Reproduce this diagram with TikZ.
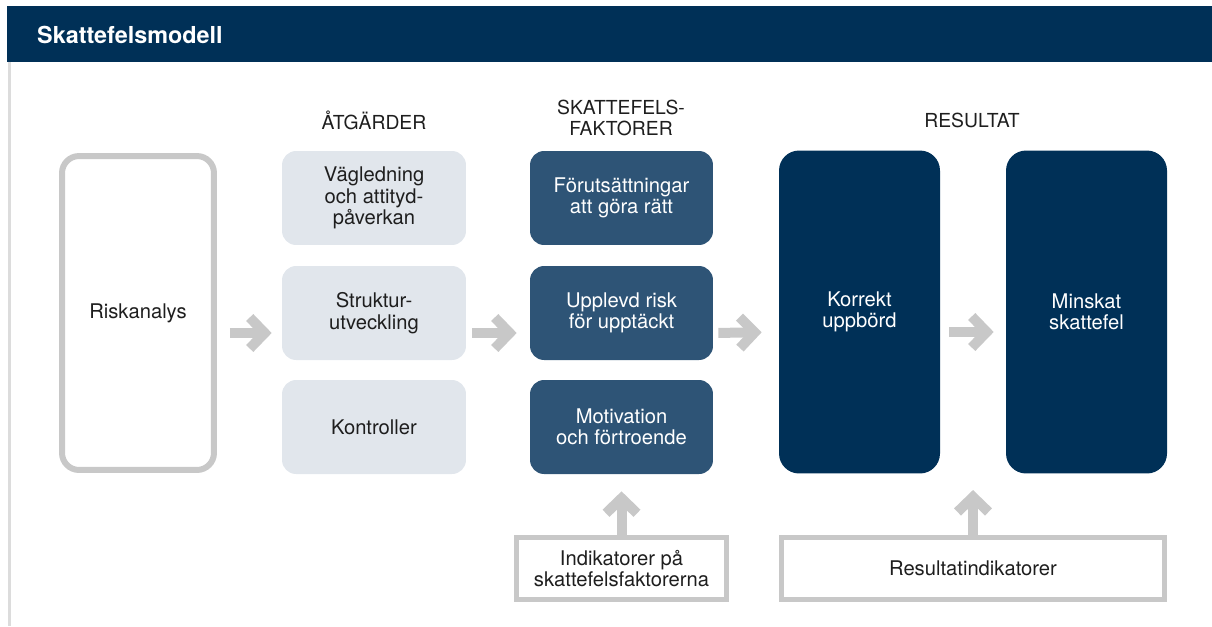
\documentclass[tikz,border=0pt]{standalone}
\usepackage{fontspec}
\setmainfont{TeX Gyre Heros}
\usetikzlibrary{arrows.meta}
\definecolor{navy}{HTML}{003057}
\definecolor{slateblue}{HTML}{2E5476}
\definecolor{paleblue}{HTML}{E1E6EC}
\definecolor{arrowgrey}{HTML}{C8C8C8}
\definecolor{edgegrey}{HTML}{DCDCDC}
\definecolor{inkgrey}{HTML}{1E1E1E}
\tikzset{
    boxtext/.style={align=center, font=\fontsize{11.5}{12.2}\selectfont, inner sep=0pt},
    heading/.style={align=center, text=inkgrey, font=\fontsize{11}{12}\selectfont},
    atgbox/.style={boxtext, fill=paleblue, text=inkgrey, rounded corners=0.28cm,
        minimum width=3.68cm, minimum height=1.88cm},
    faktorbox/.style={boxtext, fill=slateblue, text=white, rounded corners=0.28cm,
        minimum width=3.66cm, minimum height=1.88cm},
    resultbox/.style={boxtext, fill=navy, text=white, rounded corners=0.4cm,
        minimum width=3.22cm, minimum height=6.46cm},
    outlinebox/.style={boxtext, draw=arrowgrey, text=inkgrey},
    bigarrow/.style={draw=arrowgrey, line width=0.2cm,
        -{Straight Barb[length=0.3cm, width=0.62cm, sharp]}},
}
\begin{document}
\begin{tikzpicture}[x=0.02cm, y=-0.02cm]
    \useasboundingbox (0,0) rectangle (1212,626);
    % frame and title bar
    \fill[navy] (7,6) rectangle (1212,62);
    \draw[edgegrey, line width=0.06cm] (9.5,62) -- (9.5,626);
    \node[anchor=west, text=white, font=\fontsize{13.3}{14}\selectfont\bfseries] (title) at (31,35) {Skattefelsmodell};

    % column headings
    \node[heading] (hatg) at (374,120) {ÅTGÄRDER};
    \node[heading] (hfak) at (621,118) {SKATTEFELS-\\FAKTORER};
    \node[heading] (hres) at (972,120) {RESULTAT};

    % boxes
    \node[outlinebox, line width=0.12cm, rounded corners=0.34cm, minimum width=3.04cm, minimum height=6.28cm] (risk) at (138,313) {Riskanalys};

    \node[atgbox] (vagl) at (374,198) {Vägledning\\och attityd-\\påverkan};
    \node[atgbox] (strukt) at (374,313) {Struktur-\\utveckling};
    \node[atgbox] (kontr) at (374,427) {Kontroller};

    \node[faktorbox] (forut) at (621.5,198) {Förutsättningar\\att göra rätt};
    \node[faktorbox] (upplevd) at (621.5,313) {Upplevd risk\\för upptäckt};
    \node[faktorbox] (motiv) at (621.5,427) {Motivation\\och förtroende};

    \node[resultbox] (korrekt) at (859.5,312) {Korrekt\\uppbörd};
    \node[resultbox] (minskat) at (1086.5,312) {Minskat\\skattefel};

    \node[outlinebox, line width=0.1cm, minimum width=4.2cm, minimum height=1.24cm] (indik) at (621.5,568.5) {Indikatorer på\\skattefelsfaktorerna};
    \node[outlinebox, line width=0.1cm, minimum width=7.66cm, minimum height=1.24cm] (resind) at (973,568.5) {Resultatindikatorer};
    \coordinate (restop) at (973,490);

    % arrows
    \draw[bigarrow, shorten <=0.26cm, shorten >=0.2cm] ([yshift=-0.4cm]risk.east) -- ([yshift=-0.4cm]strukt.west);
    \draw[bigarrow, shorten <=0.12cm, shorten >=0.26cm] ([yshift=-0.4cm]strukt.east) -- ([yshift=-0.4cm]upplevd.west);
    \draw[bigarrow, shorten <=0.1cm, shorten >=0.34cm] ([yshift=-0.4cm]upplevd.east) -- ([yshift=-0.4cm]korrekt.west);
    \draw[bigarrow, shorten <=0.18cm, shorten >=0.24cm] ([yshift=-0.4cm]korrekt.east) -- ([yshift=-0.4cm]minskat.west);
    \draw[bigarrow, shorten >=0.34cm] (indik.north) -- (motiv.south);
    \draw[bigarrow] (resind.north) -- (restop);
\end{tikzpicture}
\end{document}
